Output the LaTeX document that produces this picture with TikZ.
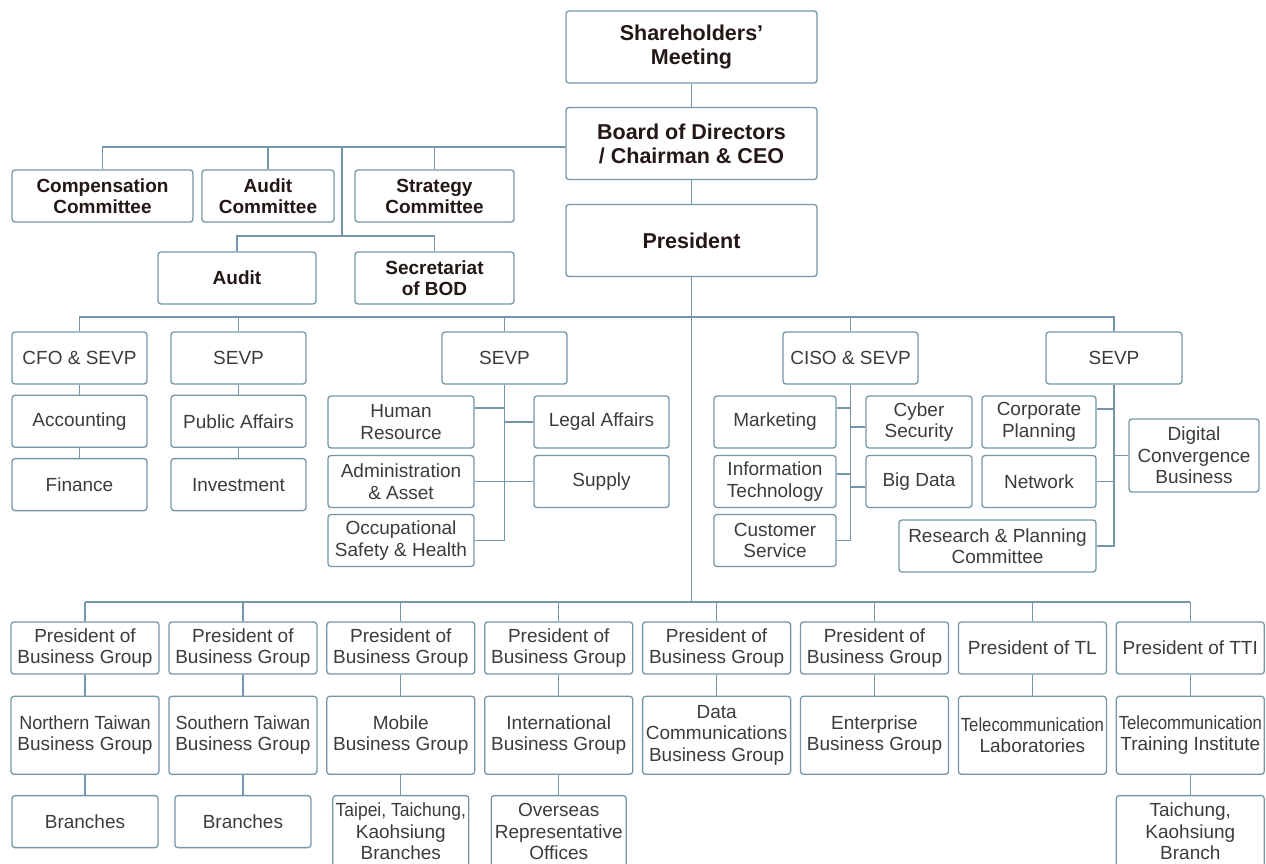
\documentclass[tikz,border=0pt]{standalone}
\usepackage{fontspec}
\setmainfont{Liberation Sans}
\usepackage{graphicx}
\usetikzlibrary{positioning}
\definecolor{linec}{HTML}{7496A8}
\definecolor{txtc}{HTML}{3C3C3C}
\definecolor{boldc}{HTML}{231815}
\begin{document}
\begin{tikzpicture}[x=1pt,y=-1pt,
	box/.style={draw=linec,line width=1.3pt,rounded corners=3pt,fill=white,align=center,inner sep=0pt,text=txtc,font=\fontsize{19}{21.5}\selectfont,minimum height=52},
	topbox/.style={box,minimum width=251,minimum height=72,text=boldc,font=\bfseries\fontsize{21.5}{24}\selectfont},
	combox/.style={box,text=boldc,font=\bfseries\fontsize{19}{21}\selectfont},
	link/.style={draw=linec,line width=1.3pt}]
		\useasboundingbox (0,0) rectangle (1266,863);
		\clip (0,0) rectangle (1266,863);
		\node[topbox] (share) at (691.5,47) {Shareholders'\\Meeting};
		\node[topbox] (board) at (691.5,143.5) {Board of Directors\\/ Chairman \& CEO};
		\node[topbox] (pres) at (691.5,240.5) {President};
		\draw[link] (share.south) -- (board.north) (board.south) -- (pres.north);
		\node[combox,minimum width=181] (comp) at (102.5,196) {Compensation\\Committee};
		\node[combox,minimum width=132] (auditc) at (268,196) {Audit\\Committee};
		\node[combox,minimum width=159] (strat) at (434.5,196) {Strategy\\Committee};
		\node[combox,minimum width=158] (audit) at (237,278) {Audit};
		\node[combox,minimum width=159] (secr) at (434.5,278) {Secretariat\\of BOD};
		\coordinate (combus) at (342,147);
		\coordinate (subbus) at (342,236);
		\draw[link] ([yshift=-3.5pt]board.west) -| (comp.north);
		\draw[link] (auditc.north) -- (auditc.north |- combus);
		\draw[link] (strat.north) -- (strat.north |- combus);
		\draw[link] (combus) -- (subbus);
		\draw[link] (audit.north) |- (subbus) -| (secr.north);
		\coordinate (midbus) at (691.5,317);
		\coordinate (lowbus) at (691.5,602);
		\draw[link] (pres.south) -- (lowbus);
		\node[box,minimum width=135] (cfo) at (79.5,358) {CFO \& SEVP};
		\node[box,minimum width=135] (sevpa) at (238.5,358) {SEVP};
		\node[box,minimum width=125] (sevpb) at (504.5,358) {SEVP};
		\node[box,minimum width=135] (ciso) at (850.5,358) {CISO \& SEVP};
		\node[box,minimum width=136] (sevpc) at (1114,358) {SEVP};
		\draw[link] (cfo.north) |- (midbus) -| (sevpc.north);
		\foreach \n in {sevpa,sevpb,ciso} {
			\draw[link] (\n.north) -- (\n.north |- midbus);
		}
		\node[box,minimum width=135,below=10pt of cfo] (acct) {Accounting};
		\node[box,minimum width=135,below=10pt of acct] (fin) {Finance};
		\node[box,minimum width=135,below=10pt of sevpa] (pub) {Public Affairs};
		\node[box,minimum width=135,below=10pt of pub] (inv) {Investment};
		\draw[link] (cfo.south) -- (acct.north) (acct.south) -- (fin.north);
		\draw[link] (sevpa.south) -- (pub.north) (pub.south) -- (inv.north);
		\node[box,minimum width=146] (hr) at (401,422) {Human\\Resource};
		\node[box,minimum width=146] (adm) at (401,481.5) {Administration\\\& Asset};
		\node[box,minimum width=146] (occ) at (401,540.5) {Occupational\\Safety \& Health};
		\node[box,minimum width=135] (legal) at (601.5,422) {Legal Affairs};
		\node[box,minimum width=135] (supply) at (601.5,481.5) {Supply};
		\draw[link] (sevpb.south) |- (occ.east);
		\draw[link] ([yshift=14pt]hr.east) -- ([yshift=14pt]hr.east -| sevpb.south);
		\draw[link] (adm.east) -- (supply.west);
		\draw[link] (legal.west) -- (legal.west -| sevpb.south);
		\node[box,minimum width=122] (mkt) at (775,422) {Marketing};
		\node[box,minimum width=122] (it) at (775,481.5) {Information\\Technology};
		\node[box,minimum width=122] (cs) at (775,540.5) {Customer\\Service};
		\node[box,minimum width=106] (cyber) at (919,422) {Cyber\\Security};
		\node[box,minimum width=106] (bigd) at (919,481.5) {Big Data};
		\draw[link] (ciso.south) |- (cs.east);
		\draw[link] ([yshift=14pt]mkt.east) -- ([yshift=14pt]mkt.east -| ciso.south);
		\draw[link] ([yshift=7.5pt]it.east) -- ([yshift=7.5pt]it.east -| ciso.south);
		\draw[link] ([yshift=-5pt]cyber.west) -- ([yshift=-5pt]cyber.west -| ciso.south);
		\draw[link] ([yshift=-5.5pt]bigd.west) -- ([yshift=-5.5pt]bigd.west -| ciso.south);
		\node[box,minimum width=114] (corp) at (1039,422) {Corporate\\Planning};
		\node[box,minimum width=114] (net) at (1039,481.5) {Network};
		\node[box,minimum width=130,minimum height=73] (dcb) at (1194,455.5) {Digital\\Convergence\\Business};
		\node[box,minimum width=197] (rpc) at (997.5,546) {Research \& Planning\\Committee};
		\draw[link] (sevpc.south) |- (rpc.east);
		\draw[link] ([yshift=13pt]corp.east) -- ([yshift=13pt]corp.east -| sevpc.south);
		\draw[link] (net.east) -- (net.east -| sevpc.south);
		\draw[link] (dcb.west) -- (dcb.west -| sevpc.south);
		\foreach \i/\ptxt/\gtxt in {
			1/{President of\\Business Group}/{\scalebox{0.95}[1]{Northern Taiwan}\\Business Group},
			2/{President of\\Business Group}/{\scalebox{0.95}[1]{Southern Taiwan}\\Business Group},
			3/{President of\\Business Group}/{Mobile\\Business Group},
			4/{President of\\Business Group}/{International\\Business Group},
			5/{President of\\Business Group}/{Data\\Communications\\Business Group},
			6/{President of\\Business Group}/{Enterprise\\Business Group},
			7/{President of TL}/{\scalebox{0.88}[1]{Telecommunication}\\Laboratories},
			8/{President of TTI}/{\scalebox{0.88}[1]{Telecommunication}\\Training Institute}} {
			\pgfmathsetmacro\cx{85+157.9*(\i-1)}
			\node[box,minimum width=148] (pg\i) at (\cx,648) {\ptxt};
			\node[box,minimum width=148,minimum height=78,below=21pt of pg\i] (bg\i) {\gtxt};
			\draw[link] (pg\i.north) -- (pg\i.north |- lowbus);
			\draw[link] (pg\i.south) -- (bg\i.north);
		}
		\draw[link] (pg1.north |- lowbus) -- (pg8.north |- lowbus);
		\node[box,minimum width=146,below=20pt of bg1] (br1) {Branches};
		\node[box,minimum width=136,below=20pt of bg2] (br2) {Branches};
		\node[box,minimum width=136,minimum height=72,below=20pt of bg3] (br3) {\scalebox{0.92}[1]{Taipei, Taichung,}\\Kaohsiung\\Branches};
		\node[box,minimum width=135,minimum height=72,below=20pt of bg4] (br4) {Overseas\\Representative\\Offices};
		\node[box,minimum width=148,minimum height=72,below=20pt of bg8] (br8) {Taichung,\\Kaohsiung\\Branch};
		\foreach \i in {1,2,3,4,8} {
			\draw[link] (bg\i.south) -- (br\i.north);
		}
	\end{tikzpicture}
\end{document}
